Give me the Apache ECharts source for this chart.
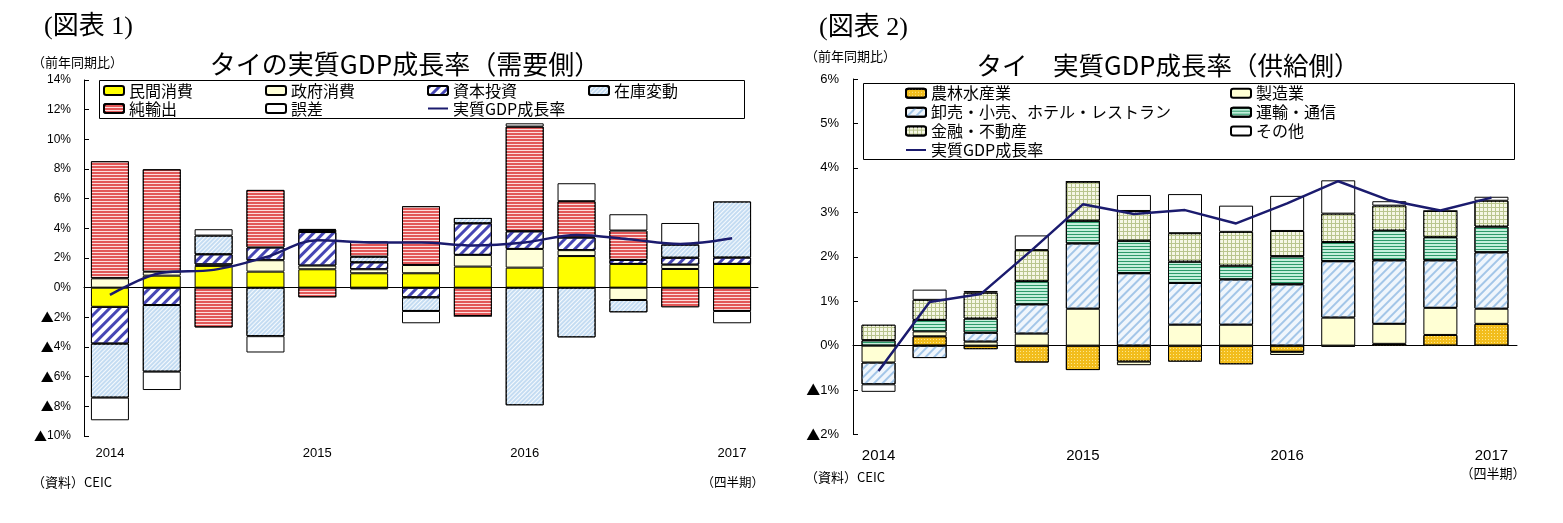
<!DOCTYPE html>
<html><head><meta charset="utf-8">
<script src="https://cdn.jsdelivr.net/npm/echarts@6/dist/echarts.min.js"></script>
<style>html,body{margin:0;padding:0;background:#fff}#c{width:1563px;height:523px}</style>
</head><body><div id="c"></div>
<script>
// ---------- categories & tick labels ----------
const quarters = ['2014Q1','2014Q2','2014Q3','2014Q4','2015Q1','2015Q2','2015Q3','2015Q4','2016Q1','2016Q2','2016Q3','2016Q4','2017Q1'];
const yearLabels = ['2014','','','','2015','','','','2016','','','','2017'];

// ---------- 図表1 : demand side (% pt contribution) ----------
const minkan  = [-1.29, 0.81, 1.47, 1.08, 1.24, 0.97, 0.97, 1.42, 1.35, 2.13, 1.60, 1.26, 1.60];
const seifu   = [ 0.63, 0.27, 0.10, 0.77, 0.25, 0.27, 0.56, 0.79, 1.26, 0.40,-0.83, 0.29, 0.00];
const shihon  = [-2.48,-1.17, 0.68, 0.86, 2.26, 0.47,-0.65, 2.13, 1.19, 0.85, 0.27, 0.47, 0.43];
const zaiko   = [-3.64,-4.49, 1.26,-3.27, 0.14, 0.38,-0.92, 0.36,-7.93,-3.35,-0.83, 0.88, 3.78];
const junyu   = [ 7.89, 6.90,-2.68, 3.88,-0.65, 1.02, 3.96,-1.91, 7.06, 2.45, 1.98,-1.32,-1.57];
const gosa    = [-1.53,-1.24, 0.43,-1.10, 0.07,-0.11,-0.83, 0.00, 0.22, 1.21, 1.10, 1.46,-0.83];
const gdpDemand = [-0.49, 1.00, 1.20, 2.05, 3.20, 3.05, 3.05, 2.85, 3.05, 3.55, 3.27, 2.95, 3.33];

// ---------- 図表2 : supply side ----------
const nourin  = [ 0.00, 0.21,-0.08,-0.38,-0.55,-0.36,-0.36,-0.42,-0.14,-0.02, 0.04, 0.24, 0.49];
const seizou  = [-0.38, 0.11, 0.09, 0.27, 0.83,-0.08, 0.47, 0.47,-0.07, 0.63, 0.45, 0.61, 0.34];
const oroshi  = [-0.49,-0.28, 0.20, 0.66, 1.47, 1.63, 0.94, 1.02, 1.38, 1.27, 1.43, 1.07, 1.27];
const unyu    = [ 0.12, 0.26, 0.32, 0.52, 0.51, 0.73, 0.48, 0.31, 0.63, 0.43, 0.67, 0.52, 0.58];
const kinyu   = [ 0.35, 0.45, 0.58, 0.70, 0.88, 0.67, 0.64, 0.76, 0.57, 0.64, 0.56, 0.59, 0.58];
const sonota  = [-0.17, 0.23, 0.04, 0.33, 0.00, 0.36, 0.88, 0.59, 0.79, 0.75, 0.10, 0.00, 0.09];
const gdpSupply = [-0.57, 0.98, 1.16, 2.15, 3.18, 2.96, 3.05, 2.75, 3.20, 3.70, 3.27, 3.04, 3.33];

const CJK = "'Liberation Sans','Noto Sans CJK JP',sans-serif";
const JP = "'Noto Sans CJK JP',sans-serif";
const SERIF = "'Liberation Serif','Noto Sans CJK JP',serif";
const diag = -Math.PI/4;

const st = {
  minkan: {color:'#ffff00'},
  seifu:  {color:'#ffffd8'},
  shihon: {color:'#ffffff', decal:{color:'#4646b4', dashArrayX:[1,0], dashArrayY:[3,3.5], rotation:diag, symbolSize:1}},
  zaiko:  {color:'#c4dcf2', decal:{color:'rgba(255,255,255,0.85)', dashArrayX:[1,0], dashArrayY:[1,2], rotation:diag, symbolSize:1}},
  junyu:  {color:'#e25858', decal:{color:'rgba(255,235,235,0.9)', dashArrayX:[1,0], dashArrayY:[1,2], symbolSize:1}},
  gosa:   {color:'#ffffff'},
  nourin: {color:'#f2bd1c', decal:{color:'#fde68c', dashArrayX:[1,2], dashArrayY:[1,2], symbolSize:1}},
  seizou: {color:'#ffffd4'},
  oroshi: {color:'#f0f6fc', decal:{color:'#a3c6e8', dashArrayX:[1,0], dashArrayY:[2,4], rotation:diag, symbolSize:1}},
  unyu:   {color:'#c4f0dc', decal:{color:'#2c9a6a', dashArrayX:[1,0], dashArrayY:[1,1.5], symbolSize:1}},
  kinyu:  {color:'#b9c58e', decal:{color:'#f6f7e6', dashArrayX:[3,1], dashArrayY:[3,1], symbolSize:1}},
  sonota: {color:'#ffffff'}
};
function bar(name, data, style, xi, yi, stack, bw){
  return {type:'bar', name, data, xAxisIndex:xi, yAxisIndex:yi, stack, barWidth:bw, legendIcon:'rect',
    itemStyle:Object.assign({borderColor:'#000', borderWidth:1}, style), emphasis:{disabled:true}, animation:false};
}
function line(name, data, xi, yi, smooth){
  return {type:'line', name, data, xAxisIndex:xi, yAxisIndex:yi, smooth, symbol:'none', showSymbol:false,
    lineStyle:{color:'#1b1b6e', width:2.5}, itemStyle:{color:'#1b1b6e'}, z:5, animation:false};
}
const pctFmt = v => v < 0 ? '{t|▲}' + (-v) + '%' : v + '%';

function xAxes(gi, margin, fs, fam){
  return [
    {type:'category', gridIndex:gi, data:quarters, axisLine:{onZero:true, lineStyle:{color:'#000', width:1}},
     axisTick:{inside:true, length:5, lineStyle:{color:'#000'}}, axisLabel:{show:false}, splitLine:{show:false}},
    {type:'category', gridIndex:gi, data:quarters, position:'bottom', axisLine:{show:false}, axisTick:{show:false},
     axisLabel:{interval:0, margin, formatter:(v,i)=>yearLabels[i], fontSize:fs, fontFamily:fam, color:'#000'}}
  ];
}
function yAxis(gi, min, max, interval, fs, margin){
  return {type:'value', gridIndex:gi, min, max, interval, splitLine:{show:false},
    axisLine:{show:true, lineStyle:{color:'#000', width:1}}, axisTick:{show:true, inside:true, length:5, lineStyle:{color:'#000'}},
    axisLabel:{formatter:pctFmt, fontSize:fs, fontFamily:CJK, color:'#000', margin,
      rich:{t:{fontFamily:JP, fontSize:fs+1, color:'#000'}}}};
}
function legend(names, left, top, gap){
  return {data:names.map(n => n.indexOf('GDP') >= 0 ? {name:n, itemStyle:{opacity:0}} : n),
    orient:'vertical', left, top, padding:0, itemGap:gap, itemWidth:20, itemHeight:9,
    selectedMode:false, textStyle:{fontSize:16, fontFamily:JP, color:'#000', lineHeight:16}};
}
function txt(x, y, text, fs, fam, align, extra){
  return {type:'text', x, y, silent:true, style:Object.assign({text, fontSize:fs, fontFamily:fam, fill:'#000',
    textAlign:align||'left', textVerticalAlign:'middle'}, extra||{})};
}

const option = {
  backgroundColor:'#fff',
  animation:false,
  grid:[
    {left:84, top:80, width:674, height:356},
    {left:853, top:79, width:664, height:355.5}
  ],
  xAxis:[...xAxes(0, 11, 13, CJK), ...xAxes(1, 14, 15, CJK)],
  yAxis:[yAxis(0, -10, 14, 2, 12, 13), yAxis(1, -2, 6, 1, 13, 14)],
  legend:[
    legend(['民間消費','純輸出'], 103, 82.5, 2),
    legend(['政府消費','誤差'], 265, 82.5, 2),
    legend(['資本投資','実質GDP成長率'], 427, 82.5, 2),
    legend(['在庫変動'], 588, 82.5, 2),
    legend(['農林水産業','卸売・小売、ホテル・レストラン','金融・不動産','実質GDP成長率 '], 905, 85.3, 2.9),
    legend(['製造業','運輸・通信','その他'], 1230, 85.3, 2.9)
  ],
  series:[
    bar('民間消費', minkan, st.minkan, 0, 0, 'd', 38),
    bar('政府消費', seifu, st.seifu, 0, 0, 'd', 38),
    bar('資本投資', shihon, st.shihon, 0, 0, 'd', 38),
    bar('在庫変動', zaiko, st.zaiko, 0, 0, 'd', 38),
    bar('純輸出', junyu, st.junyu, 0, 0, 'd', 38),
    bar('誤差', gosa, st.gosa, 0, 0, 'd', 38),
    line('実質GDP成長率', gdpDemand, 0, 0, 0.35),
    bar('農林水産業', nourin, st.nourin, 2, 1, 's', 34),
    bar('製造業', seizou, st.seizou, 2, 1, 's', 34),
    bar('卸売・小売、ホテル・レストラン', oroshi, st.oroshi, 2, 1, 's', 34),
    bar('運輸・通信', unyu, st.unyu, 2, 1, 's', 34),
    bar('金融・不動産', kinyu, st.kinyu, 2, 1, 's', 34),
    bar('その他', sonota, st.sonota, 2, 1, 's', 34),
    line('実質GDP成長率 ', gdpSupply, 2, 1, false)
  ],
  graphic:[
    {type:'rect', shape:{x:99.5, y:80.5, width:645, height:38}, style:{fill:'none', stroke:'#000', lineWidth:1}, silent:true, z:-1},
    {type:'rect', shape:{x:863.5, y:83.5, width:651, height:76}, style:{fill:'none', stroke:'#000', lineWidth:1}, silent:true, z:-1},
    txt(44, 27, '(図表 1)', 26, SERIF),
    txt(819, 28, '(図表 2)', 26, SERIF),
    txt(32, 62, '（前年同期比）', 13, JP),
    txt(805, 56, '（前年同期比）', 13, JP),
    txt(405, 64, 'タイの実質GDP成長率（需要側）', 26, JP, 'center'),
    txt(1168, 65, 'タイ　実質GDP成長率（供給側）', 25.5, JP, 'center'),
    txt(32, 482, '（資料）CEIC', 13, JP),
    txt(805, 477, '（資料）CEIC', 13, JP),
    txt(764, 482, '（四半期）', 12.5, JP, 'right'),
    txt(1493, 473, '（四半期）', 13, JP, 'center')
  ]
};
const chart = echarts.init(document.getElementById('c'));
chart.setOption(option);
</script></body></html>
